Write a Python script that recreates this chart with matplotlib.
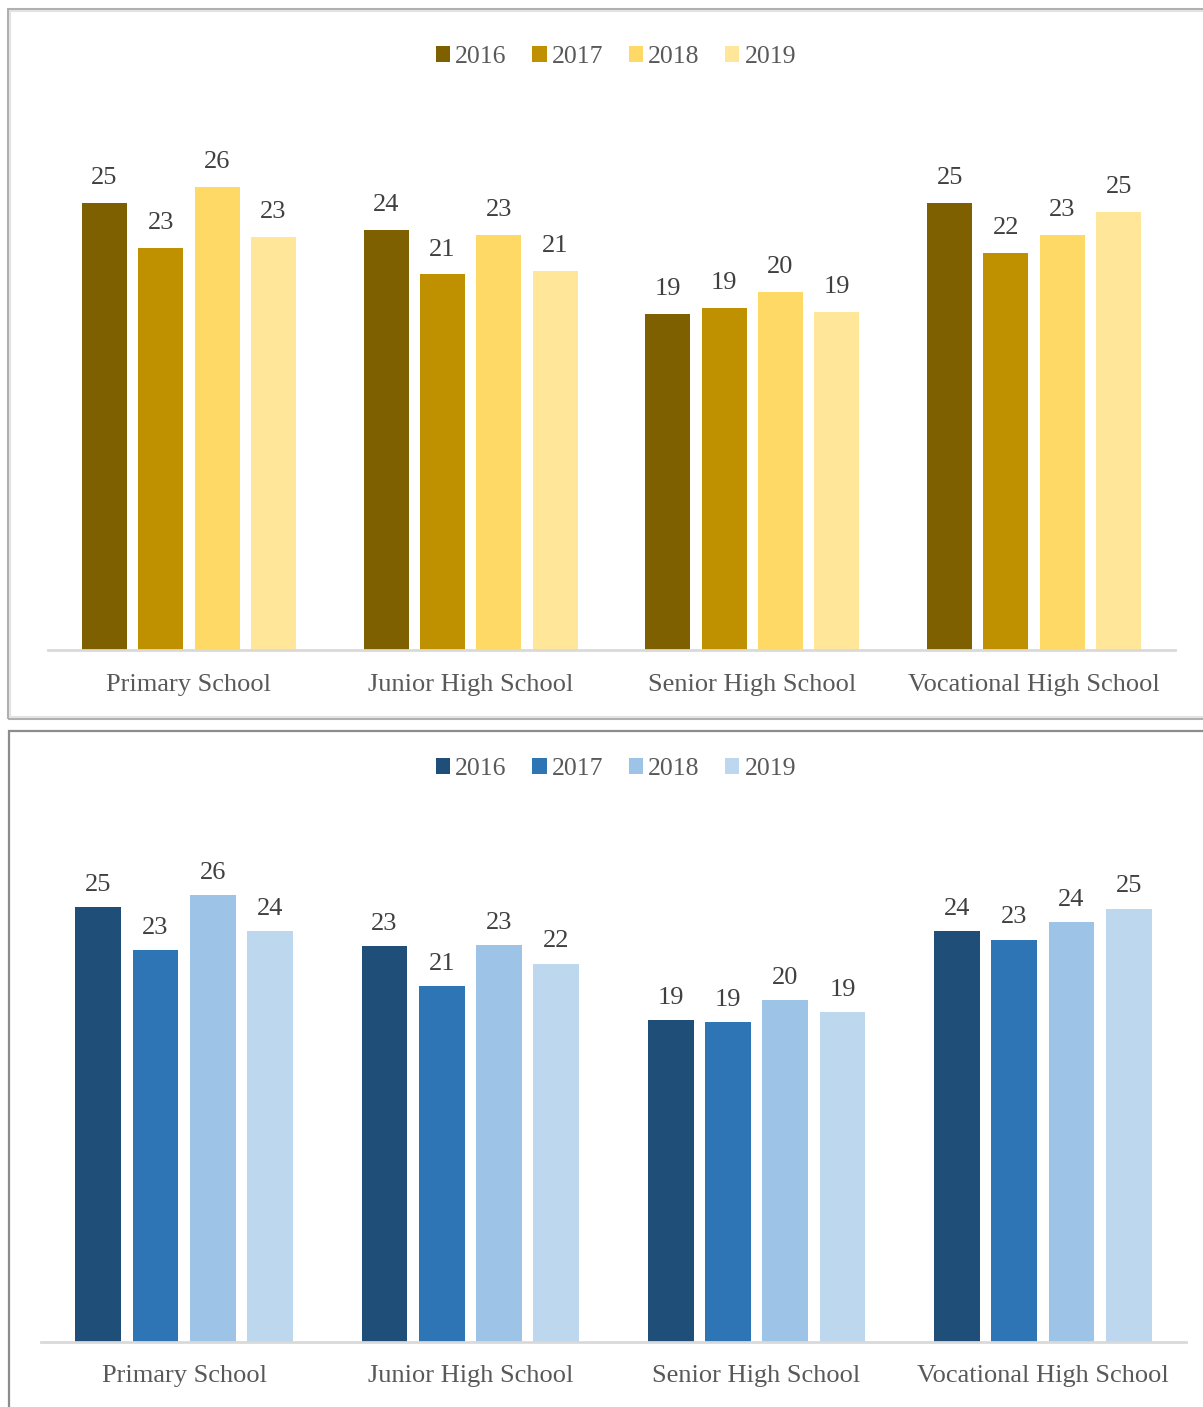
import numpy as np
import matplotlib.pyplot as plt
from matplotlib.patches import Rectangle, Patch

plt.rcParams['font.family'] = ['Liberation Serif', 'DejaVu Serif']

schools = ["Primary School", "Junior High School", "Senior High School", "Vocational High School"]
years = ["2016", "2017", "2018", "2019"]

# top chart (gold)
top_2016 = [25.1, 23.6, 18.9, 25.1]
top_2017 = [22.6, 21.1, 19.2, 22.3]
top_2018 = [26.0, 23.3, 20.1, 23.3]
top_2019 = [23.2, 21.3, 19.0, 24.6]

# bottom chart (blue)
bot_2016 = [25.3, 23.0, 18.7, 23.9]
bot_2017 = [22.8, 20.7, 18.6, 23.4]
bot_2018 = [26.0, 23.1, 19.9, 24.4]
bot_2019 = [23.9, 22.0, 19.2, 25.2]

gold = ["#7F6000", "#BF9000", "#FFD966", "#FFE699"]
blue = ["#1F4E79", "#2E75B6", "#9DC3E6", "#BDD7EE"]

W, H = 1203, 1407
fig = plt.figure(figsize=(W / 100, H / 100), dpi=100)


def fx(px):
    return px / W


def fy(px):
    return 1 - px / H


# panel frames
fig.patches.append(Rectangle((fx(9), fy(718)), fx(1210), 708 / H, transform=fig.transFigure,
                             fill=False, edgecolor="#E3E3E3", linewidth=3, zorder=0))
fig.patches.append(Rectangle((fx(8), fy(719)), fx(1210), 710 / H, transform=fig.transFigure,
                             fill=False, edgecolor="#A6A6A6", linewidth=1.2, zorder=1))
fig.patches.append(Rectangle((fx(8.5), fy(1430)), fx(1210), 699 / H, transform=fig.transFigure,
                             fill=False, edgecolor="#8C8C8C", linewidth=1.6, zorder=1))


def draw_panel(rect, series, colors, ymax, legend_y, label_pad, tick_pad):
    ax = fig.add_axes(rect)
    x = np.arange(len(schools))
    width = 0.16
    pitch = 0.2
    for i, vals in enumerate(series):
        pos = x + (i - 1.5) * pitch
        bars = ax.bar(pos, vals, width, color=colors[i], zorder=2)
        for b, v in zip(bars, vals):
            ax.annotate(f"{round(v)}", (b.get_x() + b.get_width() / 2, v),
                        xytext=(0, label_pad), textcoords="offset points",
                        ha="center", va="bottom", fontsize=19, color="#404040")
    ax.set_xlim(-0.5, 3.5)
    ax.set_ylim(0, ymax)
    ax.set_xticks(x)
    ax.set_xticklabels(schools, fontsize=19, color="#595959")
    ax.tick_params(axis="x", length=0, pad=tick_pad)
    ax.set_yticks([])
    for s in ["top", "right", "left"]:
        ax.spines[s].set_visible(False)
    ax.spines["bottom"].set_color("#D9D9D9")
    ax.spines["bottom"].set_linewidth(2)
    ax.set_facecolor("none")
    handles = [Patch(facecolor=c, label=y) for c, y in zip(colors, years)]
    fig.legend(handles=handles, loc="center", bbox_to_anchor=(fx(616), fy(legend_y)),
               ncol=4, frameon=False, fontsize=18.5, labelcolor="#595959",
               handlelength=0.55, handleheight=0.55, handletextpad=0.2,
               columnspacing=1.0)
    return ax


draw_panel([fx(48), fy(650), fx(1127), 534 / H],
           [top_2016, top_2017, top_2018, top_2019], gold, 30, 57, 10, 17)
draw_panel([fx(41), fy(1342), fx(1145), 516 / H],
           [bot_2016, bot_2017, bot_2018, bot_2019], blue, 30, 769, 8, 16.5)

fig.savefig("out.png", dpi=100)
